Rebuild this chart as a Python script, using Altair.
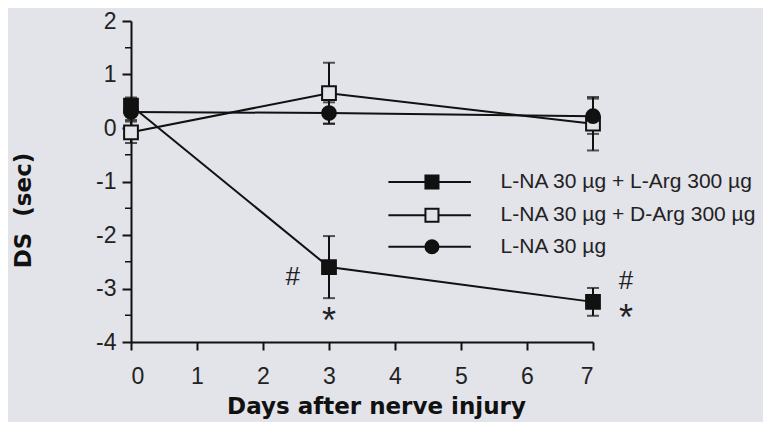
import altair as alt
import pandas as pd

# ---- data ----
days = [0, 3, 7]
series_names = [
    "L-NA 30 µg + L-Arg 300 µg",
    "L-NA 30 µg + D-Arg 300 µg",
    "L-NA 30 µg",
]
larg_mean = [0.42, -2.60, -3.25]
larg_sem = [0.15, 0.58, 0.26]
darg_mean = [-0.08, 0.65, 0.08]
darg_sem = [0.20, 0.57, 0.50]
lna_mean = [0.30, 0.28, 0.22]
lna_sem = [0.15, 0.20, 0.33]

y_ticks = [-4, -3, -2, -1, 0, 1, 2]
y_minor = [-3.5, -2.5, -1.5, -0.5, 0.5, 1.5]
x_ticks = [0, 1, 2, 3, 4, 5, 6, 7]

hash_day = [2.45, 7.5]
hash_val = [-2.78, -2.86]
star_day = [3.0, 7.5]
star_val = [-3.47, -3.42]

BG = "#e3e3ea"
FONT = "Liberation Sans"

rows = []
for name, m, s in zip(series_names, [larg_mean, darg_mean, lna_mean],
                      [larg_sem, darg_sem, lna_sem]):
    for d, mv, sv in zip(days, m, s):
        rows.append({"series": name, "day": d, "mean": mv,
                     "lo": mv - sv, "hi": mv + sv})
df = pd.DataFrame(rows)

shape_scale = alt.Scale(domain=series_names, range=["square", "square", "circle"])
fill_scale = alt.Scale(domain=series_names, range=["#111111", BG, "#111111"])

xs = alt.Scale(domain=[0, 7], nice=False)
ys = alt.Scale(domain=[-4, 2], nice=False)

base = alt.Chart(df)

lines = base.mark_line(color="#111111", strokeWidth=2).encode(
    x=alt.X("day:Q", scale=xs,
            axis=alt.Axis(values=x_ticks, title="Days after nerve injury",
                          labelExpr="'' + datum.value", grid=False, tickSize=8,
                          labelPadding=15, titlePadding=7, titleX=245)),
    y=alt.Y("mean:Q", scale=ys,
            axis=alt.Axis(values=y_ticks, title="DS\u00a0\u00a0(sec)",
                          labelExpr="'' + datum.value",
                          grid=False, tickSize=9, labelPadding=6,
                          titleX=-108, titleY=189, titleAngle=-90,
                          titleBaseline="middle")),
    detail="series:N",
)

err = base.mark_rule(color="#111111", strokeWidth=2).encode(
    x="day:Q", y="lo:Q", y2="hi:Q")
cap_hi = base.mark_tick(color="#111111", thickness=2, size=12, orient="horizontal").encode(
    x="day:Q", y="hi:Q")
cap_lo = base.mark_tick(color="#111111", thickness=2, size=12, orient="horizontal").encode(
    x="day:Q", y="lo:Q")

points = base.mark_point(filled=False, stroke="#111111", strokeWidth=2, opacity=1).encode(
    x="day:Q", y="mean:Q",
    shape=alt.Shape("series:N", scale=shape_scale, legend=None),
    fill=alt.Fill("series:N", scale=fill_scale, legend=None),
    size=alt.value(190),
)

minor = alt.Chart(pd.DataFrame({"v": y_minor})).mark_rule(
    color="#111111", strokeWidth=1.5).encode(
    y=alt.Y("v:Q", scale=ys), x=alt.value(-6), x2=alt.value(0))

hashes = alt.Chart(pd.DataFrame({"d": hash_day, "v": hash_val})).mark_text(
    font=FONT, fontSize=26, color="#222222", text="#", baseline="middle").encode(
    x=alt.X("d:Q", scale=xs), y=alt.Y("v:Q", scale=ys))
stars = alt.Chart(pd.DataFrame({"d": star_day, "v": star_val})).mark_text(
    font=FONT, fontSize=36, color="#222222", text="*", baseline="alphabetic",
    dy=19).encode(
    x=alt.X("d:Q", scale=xs), y=alt.Y("v:Q", scale=ys))

# manual legend (line + symbol + label) placed inside the plot
leg_y = [-1.01, -1.63, -2.22]
leg = pd.DataFrame({"series": series_names, "ly": leg_y,
                    "x0": [3.9] * 3, "x1": [5.15] * 3, "xm": [4.56] * 3,
                    "xt": [5.6] * 3})
lbase = alt.Chart(leg)
leg_line = lbase.mark_rule(color="#111111", strokeWidth=2).encode(
    x=alt.X("x0:Q", scale=xs), x2="x1:Q", y=alt.Y("ly:Q", scale=ys))
leg_pt = lbase.mark_point(filled=False, stroke="#111111", strokeWidth=2, opacity=1).encode(
    x=alt.X("xm:Q", scale=xs), y=alt.Y("ly:Q", scale=ys),
    shape=alt.Shape("series:N", scale=shape_scale, legend=None),
    fill=alt.Fill("series:N", scale=fill_scale, legend=None),
    size=alt.value(170))
leg_txt = lbase.mark_text(font=FONT, fontSize=21, align="left", baseline="middle",
                          color="#222222").encode(
    x=alt.X("xt:Q", scale=xs), y=alt.Y("ly:Q", scale=ys), text="series:N")

chart = alt.layer(lines, err, cap_hi, cap_lo, points, minor, hashes, stars,
                  leg_line, leg_pt, leg_txt).properties(
    width=462, height=321,
    background=BG,
    padding={"left": 123, "top": 13, "right": 170, "bottom": 80},
    autosize=alt.AutoSizeParams(type="none"),
).configure_view(stroke=None).configure_axis(
    domainColor="#111111", domainWidth=2, tickColor="#111111", tickWidth=2,
    labelFont=FONT, labelFontSize=23, labelColor="#222222",
    titleFont="DejaVu Sans", titleFontSize=23, titleFontWeight="bold",
    titleColor="#111111",
)

chart.save("out.html", embed_options={"renderer": "svg", "actions": False})
